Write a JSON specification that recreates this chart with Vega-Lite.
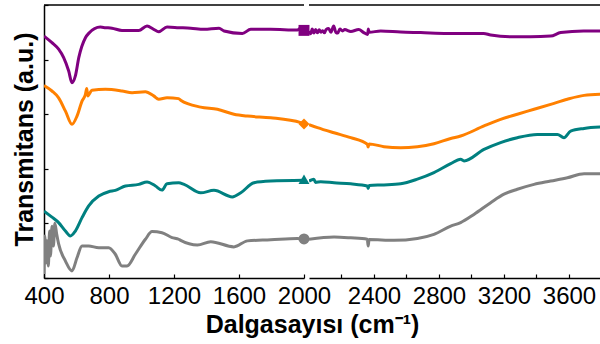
{
  "$schema": "https://vega.github.io/schema/vega-lite/v6.json",
  "autosize": {"type": "pad"},
  "bounds": "flush",
  "padding": {"left": 11, "top": 4, "right": 0, "bottom": 5},
  "background": "white",
  "config": {
    "view": {"stroke": null},
    "concat": {"spacing": 5},
    "font": "Liberation Sans",
    "axis": {
      "grid": false,
      "domainColor": "black",
      "domainWidth": 1.5,
      "tickColor": "black",
      "tickWidth": 1.2,
      "tickSize": -4,
      "labelFont": "Liberation Sans",
      "labelFontSize": 24,
      "labelColor": "black",
      "labelPadding": 10,
      "titleFont": "Liberation Sans",
      "titleColor": "black",
      "titleFontSize": 25,
      "titleFontWeight": "bold"
    }
  },
  "datasets": {
    "left": [
      {"series": "P", "wn": 400, "T": 8.86}, {"series": "P", "wn": 449, "T": 8.62}, {"series": "P", "wn": 490, "T": 8.38}, {"series": "P", "wn": 521, "T": 8.07}, {"series": "P", "wn": 552, "T": 7.58}, {"series": "P", "wn": 572, "T": 7.15}, {"series": "P", "wn": 593, "T": 7.40}, {"series": "P", "wn": 614, "T": 8.07}, {"series": "P", "wn": 655, "T": 8.80}, {"series": "P", "wn": 675, "T": 8.96}, {"series": "P", "wn": 747, "T": 9.19}, {"series": "P", "wn": 778, "T": 9.17}, {"series": "P", "wn": 818, "T": 9.15}, {"series": "P", "wn": 880, "T": 9.07}, {"series": "P", "wn": 983, "T": 9.07}, {"series": "P", "wn": 1034, "T": 9.23}, {"series": "P", "wn": 1075, "T": 9.11}, {"series": "P", "wn": 1106, "T": 9.02}, {"series": "P", "wn": 1157, "T": 9.19}, {"series": "P", "wn": 1229, "T": 9.17}, {"series": "P", "wn": 1303, "T": 9.15}, {"series": "P", "wn": 1385, "T": 9.11}, {"series": "P", "wn": 1477, "T": 9.15}, {"series": "P", "wn": 1508, "T": 9.05}, {"series": "P", "wn": 1621, "T": 8.96}, {"series": "P", "wn": 1672, "T": 9.11}, {"series": "P", "wn": 1795, "T": 9.11}, {"series": "P", "wn": 1960, "T": 9.08}, {"series": "P", "wn": 1975, "T": 9.14}, {"series": "P", "wn": 1990, "T": 9.02}, {"series": "P", "wn": 2000, "T": 9.07},
      {"series": "O", "wn": 400, "T": 7.05}, {"series": "O", "wn": 449, "T": 6.85}, {"series": "O", "wn": 490, "T": 6.60}, {"series": "O", "wn": 532, "T": 6.11}, {"series": "O", "wn": 572, "T": 5.63}, {"series": "O", "wn": 603, "T": 5.93}, {"series": "O", "wn": 634, "T": 6.48}, {"series": "O", "wn": 655, "T": 6.73}, {"series": "O", "wn": 663, "T": 6.94}, {"series": "O", "wn": 669, "T": 6.67}, {"series": "O", "wn": 695, "T": 6.88}, {"series": "O", "wn": 778, "T": 6.91}, {"series": "O", "wn": 880, "T": 6.85}, {"series": "O", "wn": 942, "T": 6.79}, {"series": "O", "wn": 1024, "T": 6.82}, {"series": "O", "wn": 1075, "T": 6.67}, {"series": "O", "wn": 1106, "T": 6.55}, {"series": "O", "wn": 1157, "T": 6.60}, {"series": "O", "wn": 1229, "T": 6.57}, {"series": "O", "wn": 1241, "T": 6.51}, {"series": "O", "wn": 1364, "T": 6.26}, {"series": "O", "wn": 1467, "T": 6.18}, {"series": "O", "wn": 1569, "T": 6.00}, {"series": "O", "wn": 1652, "T": 5.93}, {"series": "O", "wn": 1795, "T": 5.87}, {"series": "O", "wn": 1980, "T": 5.69}, {"series": "O", "wn": 2000, "T": 5.64},
      {"series": "T", "wn": 400, "T": 2.45}, {"series": "T", "wn": 449, "T": 2.23}, {"series": "T", "wn": 490, "T": 2.03}, {"series": "T", "wn": 532, "T": 1.72}, {"series": "T", "wn": 562, "T": 1.54}, {"series": "T", "wn": 593, "T": 1.72}, {"series": "T", "wn": 634, "T": 2.21}, {"series": "T", "wn": 675, "T": 2.64}, {"series": "T", "wn": 737, "T": 3.00}, {"series": "T", "wn": 798, "T": 3.16}, {"series": "T", "wn": 839, "T": 3.21}, {"series": "T", "wn": 901, "T": 3.37}, {"series": "T", "wn": 983, "T": 3.43}, {"series": "T", "wn": 1034, "T": 3.52}, {"series": "T", "wn": 1086, "T": 3.37}, {"series": "T", "wn": 1126, "T": 3.22}, {"series": "T", "wn": 1157, "T": 3.45}, {"series": "T", "wn": 1229, "T": 3.49}, {"series": "T", "wn": 1262, "T": 3.43}, {"series": "T", "wn": 1364, "T": 3.12}, {"series": "T", "wn": 1446, "T": 3.21}, {"series": "T", "wn": 1559, "T": 2.97}, {"series": "T", "wn": 1611, "T": 3.12}, {"series": "T", "wn": 1692, "T": 3.49}, {"series": "T", "wn": 1795, "T": 3.55}, {"series": "T", "wn": 2000, "T": 3.58},
      {"series": "G", "wn": 400, "T": 0.15}, {"series": "G", "wn": 405, "T": 1.54}, {"series": "G", "wn": 412, "T": 0.55}, {"series": "G", "wn": 418, "T": 1.36}, {"series": "G", "wn": 427, "T": 0.44}, {"series": "G", "wn": 434, "T": 1.72}, {"series": "G", "wn": 440, "T": 0.81}, {"series": "G", "wn": 449, "T": 1.90}, {"series": "G", "wn": 458, "T": 1.17}, {"series": "G", "wn": 467, "T": 2.01}, {"series": "G", "wn": 478, "T": 1.61}, {"series": "G", "wn": 490, "T": 1.25}, {"series": "G", "wn": 532, "T": 0.62}, {"series": "G", "wn": 572, "T": 0.26}, {"series": "G", "wn": 603, "T": 0.74}, {"series": "G", "wn": 634, "T": 1.17}, {"series": "G", "wn": 675, "T": 1.17}, {"series": "G", "wn": 737, "T": 1.11}, {"series": "G", "wn": 798, "T": 1.11}, {"series": "G", "wn": 839, "T": 0.87}, {"series": "G", "wn": 880, "T": 0.44}, {"series": "G", "wn": 911, "T": 0.44}, {"series": "G", "wn": 962, "T": 0.87}, {"series": "G", "wn": 1024, "T": 1.42}, {"series": "G", "wn": 1065, "T": 1.70}, {"series": "G", "wn": 1126, "T": 1.66}, {"series": "G", "wn": 1188, "T": 1.48}, {"series": "G", "wn": 1229, "T": 1.42}, {"series": "G", "wn": 1241, "T": 1.38}, {"series": "G", "wn": 1344, "T": 1.21}, {"series": "G", "wn": 1426, "T": 1.33}, {"series": "G", "wn": 1569, "T": 1.14}, {"series": "G", "wn": 1652, "T": 1.36}, {"series": "G", "wn": 1795, "T": 1.40}, {"series": "G", "wn": 1959, "T": 1.45}, {"series": "G", "wn": 2000, "T": 1.43}
    ],
    "right": [
      {"series": "P", "wn": 2000, "T": 9.05}, {"series": "P", "wn": 2010, "T": 8.95}, {"series": "P", "wn": 2020, "T": 9.12}, {"series": "P", "wn": 2030, "T": 8.97}, {"series": "P", "wn": 2041, "T": 9.10}, {"series": "P", "wn": 2052, "T": 8.98}, {"series": "P", "wn": 2063, "T": 9.09}, {"series": "P", "wn": 2074, "T": 9.00}, {"series": "P", "wn": 2084, "T": 9.06}, {"series": "P", "wn": 2095, "T": 8.98}, {"series": "P", "wn": 2105, "T": 9.10}, {"series": "P", "wn": 2121, "T": 9.14}, {"series": "P", "wn": 2135, "T": 9.00}, {"series": "P", "wn": 2152, "T": 9.23}, {"series": "P", "wn": 2165, "T": 9.00}, {"series": "P", "wn": 2177, "T": 8.97}, {"series": "P", "wn": 2190, "T": 9.12}, {"series": "P", "wn": 2207, "T": 9.05}, {"series": "P", "wn": 2220, "T": 9.10}, {"series": "P", "wn": 2257, "T": 9.03}, {"series": "P", "wn": 2306, "T": 9.10}, {"series": "P", "wn": 2337, "T": 8.99}, {"series": "P", "wn": 2361, "T": 8.92}, {"series": "P", "wn": 2365, "T": 9.12}, {"series": "P", "wn": 2370, "T": 9.00}, {"series": "P", "wn": 2441, "T": 9.05}, {"series": "P", "wn": 2564, "T": 9.01}, {"series": "P", "wn": 2687, "T": 8.99}, {"series": "P", "wn": 2852, "T": 8.96}, {"series": "P", "wn": 3075, "T": 8.96}, {"series": "P", "wn": 3118, "T": 8.90}, {"series": "P", "wn": 3241, "T": 8.84}, {"series": "P", "wn": 3364, "T": 8.84}, {"series": "P", "wn": 3487, "T": 8.86}, {"series": "P", "wn": 3549, "T": 8.99}, {"series": "P", "wn": 3690, "T": 9.05}, {"series": "P", "wn": 3797, "T": 9.05},
      {"series": "O", "wn": 2000, "T": 5.62}, {"series": "O", "wn": 2052, "T": 5.51}, {"series": "O", "wn": 2154, "T": 5.32}, {"series": "O", "wn": 2257, "T": 5.14}, {"series": "O", "wn": 2359, "T": 4.90}, {"series": "O", "wn": 2364, "T": 4.80}, {"series": "O", "wn": 2370, "T": 4.91}, {"series": "O", "wn": 2461, "T": 4.81}, {"series": "O", "wn": 2564, "T": 4.77}, {"series": "O", "wn": 2667, "T": 4.81}, {"series": "O", "wn": 2769, "T": 4.92}, {"series": "O", "wn": 2872, "T": 5.11}, {"series": "O", "wn": 2933, "T": 5.20}, {"series": "O", "wn": 3077, "T": 5.57}, {"series": "O", "wn": 3179, "T": 5.81}, {"series": "O", "wn": 3282, "T": 6.00}, {"series": "O", "wn": 3385, "T": 6.18}, {"series": "O", "wn": 3487, "T": 6.36}, {"series": "O", "wn": 3590, "T": 6.55}, {"series": "O", "wn": 3693, "T": 6.69}, {"series": "O", "wn": 3797, "T": 6.73},
      {"series": "T", "wn": 2000, "T": 3.55}, {"series": "T", "wn": 2030, "T": 3.62}, {"series": "T", "wn": 2040, "T": 3.50}, {"series": "T", "wn": 2072, "T": 3.53}, {"series": "T", "wn": 2154, "T": 3.49}, {"series": "T", "wn": 2257, "T": 3.45}, {"series": "T", "wn": 2359, "T": 3.37}, {"series": "T", "wn": 2364, "T": 3.28}, {"series": "T", "wn": 2370, "T": 3.39}, {"series": "T", "wn": 2461, "T": 3.41}, {"series": "T", "wn": 2564, "T": 3.45}, {"series": "T", "wn": 2667, "T": 3.62}, {"series": "T", "wn": 2769, "T": 3.86}, {"series": "T", "wn": 2872, "T": 4.19}, {"series": "T", "wn": 2933, "T": 4.35}, {"series": "T", "wn": 2954, "T": 4.29}, {"series": "T", "wn": 3077, "T": 4.71}, {"series": "T", "wn": 3179, "T": 4.96}, {"series": "T", "wn": 3282, "T": 5.14}, {"series": "T", "wn": 3405, "T": 5.26}, {"series": "T", "wn": 3529, "T": 5.26}, {"series": "T", "wn": 3569, "T": 5.14}, {"series": "T", "wn": 3610, "T": 5.38}, {"series": "T", "wn": 3693, "T": 5.48}, {"series": "T", "wn": 3797, "T": 5.53},
      {"series": "G", "wn": 2000, "T": 1.42}, {"series": "G", "wn": 2154, "T": 1.50}, {"series": "G", "wn": 2257, "T": 1.47}, {"series": "G", "wn": 2359, "T": 1.42}, {"series": "G", "wn": 2364, "T": 1.17}, {"series": "G", "wn": 2370, "T": 1.41}, {"series": "G", "wn": 2523, "T": 1.38}, {"series": "G", "wn": 2667, "T": 1.45}, {"series": "G", "wn": 2769, "T": 1.60}, {"series": "G", "wn": 2872, "T": 1.90}, {"series": "G", "wn": 2933, "T": 2.03}, {"series": "G", "wn": 3015, "T": 2.33}, {"series": "G", "wn": 3118, "T": 2.76}, {"series": "G", "wn": 3200, "T": 3.07}, {"series": "G", "wn": 3282, "T": 3.25}, {"series": "G", "wn": 3385, "T": 3.43}, {"series": "G", "wn": 3487, "T": 3.55}, {"series": "G", "wn": 3590, "T": 3.67}, {"series": "G", "wn": 3693, "T": 3.82}, {"series": "G", "wn": 3797, "T": 3.82}
    ],
    "markers": [
      {"series": "P", "wn": 2000, "T": 9.07},
      {"series": "O", "wn": 2000, "T": 5.64},
      {"series": "T", "wn": 2000, "T": 3.62},
      {"series": "G", "wn": 2000, "T": 1.43}
    ],
    "border": [{"T": 10}]
  },
  "hconcat": [
    {
      "width": 260,
      "height": 273,
      "layer": [
        {
          "data": {"name": "left"},
          "mark": {"type": "line", "strokeWidth": 3, "clip": true, "interpolate": "monotone"},
          "encoding": {
            "x": {
              "field": "wn", "type": "quantitative",
              "scale": {"domain": [400, 2000], "nice": false, "zero": false},
              "axis": {
                "values": [400, 600, 800, 1000, 1200, 1400, 1600, 1800, 2000],
                "labelExpr": "datum.value % 400 === 0 ? datum.label : ''",
                "format": "d",
                "labelFlush": false,
                "labelOverlap": false,
                "title": "Dalgasayısı (cm⁻¹)",
                "titleX": 268,
                "titleY": 54,
                "titleBaseline": "alphabetic"
              }
            },
            "y": {
              "field": "T", "type": "quantitative",
              "scale": {"domain": [0, 10], "nice": false, "zero": false},
              "axis": {
                "values": [0, 1, 2, 3, 4, 5, 6, 7, 8, 9, 10],
                "labels": false,
                "title": "Transmitans (a.u.)",
                "titleX": -12,
                "titleY": 134,
                "titleBaseline": "alphabetic",
                "titleAngle": -90
              }
            },
            "color": {
              "field": "series", "type": "nominal",
              "scale": {"domain": ["P", "O", "T", "G"], "range": ["#800080", "#FF8000", "#008080", "#808080"]},
              "legend": null
            }
          }
        },
        {
          "data": {"name": "border"},
          "mark": {"type": "rule", "color": "black", "strokeWidth": 1.6},
          "encoding": {"y": {"field": "T", "type": "quantitative"}}
        },
        {
          "data": {"name": "markers"},
          "mark": {"type": "point", "filled": true, "opacity": 1, "size": 120},
          "encoding": {
            "x": {"field": "wn", "type": "quantitative"},
            "y": {"field": "T", "type": "quantitative"},
            "color": {"field": "series", "type": "nominal", "legend": null},
            "shape": {
              "field": "series", "type": "nominal",
              "scale": {"domain": ["P", "O", "T", "G"], "range": ["square", "diamond", "triangle-up", "circle"]},
              "legend": null
            }
          }
        }
      ]
    },
    {
      "width": 292,
      "height": 273,
      "layer": [
        {
          "data": {"name": "right"},
          "mark": {"type": "line", "strokeWidth": 3, "clip": true, "interpolate": "monotone"},
          "encoding": {
            "x": {
              "field": "wn", "type": "quantitative",
              "scale": {"domain": [2000, 3797], "nice": false, "zero": false},
              "axis": {
                "values": [2200, 2400, 2600, 2800, 3000, 3200, 3400, 3600],
                "labelExpr": "datum.value % 400 === 0 ? datum.label : ''",
                "format": "d",
                "labelFlush": false,
                "labelOverlap": false,
                "title": null
              }
            },
            "y": {
              "field": "T", "type": "quantitative",
              "scale": {"domain": [0, 10], "nice": false, "zero": false},
              "axis": null
            },
            "color": {
              "field": "series", "type": "nominal",
              "scale": {"domain": ["P", "O", "T", "G"], "range": ["#800080", "#FF8000", "#008080", "#808080"]},
              "legend": null
            }
          }
        },
        {
          "data": {"name": "border"},
          "mark": {"type": "rule", "color": "black", "strokeWidth": 1.6},
          "encoding": {"y": {"field": "T", "type": "quantitative"}}
        }
      ]
    }
  ]
}
